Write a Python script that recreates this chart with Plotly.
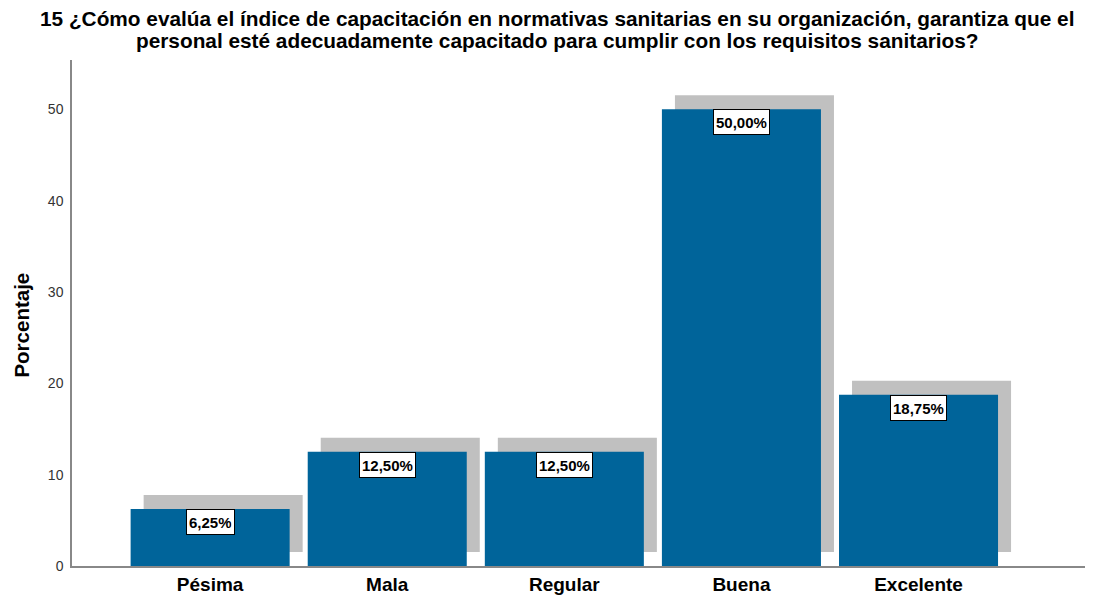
import plotly.graph_objects as go

categories = ["Pésima", "Mala", "Regular", "Buena", "Excelente"]
values = [6.25, 12.50, 12.50, 50.00, 18.75]
labels = ["6,25%", "12,50%", "12,50%", "50,00%", "18,75%"]
y_ticks = [0, 10, 20, 30, 40, 50]
title_lines = [
    "15 ¿Cómo evalúa el índice de capacitación en normativas sanitarias en su organización, garantiza que el",
    "personal esté adecuadamente capacitado para cumplir con los requisitos sanitarios?",
]
y_title = "Porcentaje"

BAR_W = 0.898
SH_DX = 0.0735   # shadow offset in category units
SH_DY = 1.53     # shadow offset in value units
FONT = "Liberation Sans, Arial"

xs = list(range(len(categories)))

fig = go.Figure()
fig.add_trace(go.Bar(
    x=[x + SH_DX for x in xs], y=values, base=[SH_DY] * len(values),
    width=BAR_W, marker=dict(color="#C0C0C0", line=dict(width=0)),
    hoverinfo="skip", showlegend=False))
fig.add_trace(go.Bar(
    x=xs, y=values, width=BAR_W,
    marker=dict(color="#00649A", line=dict(width=0)),
    showlegend=False))

for x, v, t in zip(xs, values, labels):
    fig.add_annotation(x=x, y=v, xref="x", yref="y", text="<b>" + t + "</b>",
                       showarrow=False, yanchor="top", xanchor="center",
                       bgcolor="white", bordercolor="black", borderwidth=1,
                       borderpad=2, height=20,
                       font=dict(family=FONT, size=15, color="black"))

# title lines
for line, yp in zip(title_lines, [1.083, 1.0395]):
    fig.add_annotation(x=0.4788, y=yp, xref="paper", yref="paper",
                       text="<b>" + line + "</b>", showarrow=False,
                       xanchor="center", yanchor="middle",
                       font=dict(family=FONT, size=20.8, color="black"))

# y axis title
fig.add_annotation(x=-0.0494, y=0.477, xref="paper", yref="paper",
                   text="<b>" + y_title + "</b>", showarrow=False, textangle=-90,
                   xanchor="center", yanchor="middle",
                   font=dict(family=FONT, size=20.5, color="black"))

# page body has an 8px margin, so the figure is sized to end at the window edge
fig.update_layout(
    width=1104, height=590,
    barmode="overlay",
    plot_bgcolor="white", paper_bgcolor="white",
    margin=dict(l=64, r=27, t=52, b=32),
    font=dict(family=FONT),
    xaxis=dict(range=[-0.78, 4.94], tickvals=xs,
               ticktext=["<b>" + c + "</b>" for c in categories],
               tickfont=dict(size=19, color="black"),
               showline=True, linecolor="#888888", linewidth=1.5,
               showgrid=False, zeroline=False, ticks="", automargin=False),
    yaxis=dict(range=[0, 55.4], tickvals=y_ticks,
               tickfont=dict(size=14, color="#333333"),
               showline=True, linecolor="#888888", linewidth=1.5,
               showgrid=False, zeroline=False, ticks="", ticklabelstandoff=4,
               automargin=False),
)

fig.write_html("out.html")
